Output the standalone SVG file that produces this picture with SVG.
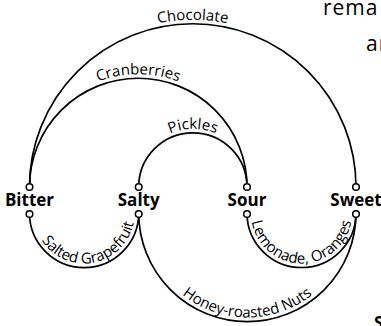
<svg xmlns="http://www.w3.org/2000/svg" xmlns:xlink="http://www.w3.org/1999/xlink" width="381" height="326" viewBox="0 0 381 326">
  <style>
    .edge { fill: none; stroke: #000; stroke-width: 1.7; }
    .port { fill: #fff; stroke: #000; stroke-width: 1.5; }
    .node { font-family: "Open Sans", "Noto Sans", sans-serif; font-weight: bold; font-size: 17px; text-anchor: middle; fill: #000; }
    .lbl { font-family: "Open Sans", "Noto Sans", sans-serif; font-size: 15px; fill: #000; }
    .frag { font-family: "Open Sans", "Noto Sans", sans-serif; font-size: 21px; fill: #000; letter-spacing: 1px; }
  </style>
  <defs>
    <path id="p-choc" d="M 25.5,187 A 167.25 167.25 0 0 1 360,187"/>
    <path id="p-cran" d="M 25.5,187 A 112.75 112.75 0 0 1 251,187"/>
    <path id="p-pick" d="M 134.7,187 A 58.15 58.15 0 0 1 251,187"/>
    <path id="p-salt" d="M 33.6,213 A 50.5 50.5 0 0 0 134.6,213"/>
    <path id="p-lemo" d="M 251,213 A 50.5 50.5 0 0 0 352,213"/>
    <path id="p-hone" d="M 142.85,213 A 104.5 104.5 0 0 0 351.85,213"/>
  </defs>

  <g id="connectors">
    <path class="edge" d="M 29.5,187 A 163.25 163.25 0 0 1 356,187"/>
    <path class="edge" d="M 29.5,187 A 108.75 108.75 0 0 1 247,187"/>
    <path class="edge" d="M 138.7,187 A 54.15 54.15 0 0 1 247,187"/>
    <path class="edge" d="M 29.5,213 A 54.6 54.6 0 0 0 138.7,213"/>
    <path class="edge" d="M 247,213 A 54.5 54.5 0 0 0 356,213"/>
    <path class="edge" d="M 138.7,213 A 108.65 108.65 0 0 0 356,213"/>
    <text class="lbl"><textPath xlink:href="#p-choc" href="#p-choc" startOffset="50%" text-anchor="middle">Chocolate</textPath></text>
    <text class="lbl"><textPath xlink:href="#p-cran" href="#p-cran" startOffset="50%" text-anchor="middle">Cranberries</textPath></text>
    <text class="lbl"><textPath xlink:href="#p-pick" href="#p-pick" startOffset="50%" text-anchor="middle">Pickles</textPath></text>
    <text class="lbl"><textPath xlink:href="#p-salt" href="#p-salt" startOffset="56%" text-anchor="middle">Salted Grapefruit</textPath></text>
    <text class="lbl"><textPath xlink:href="#p-lemo" href="#p-lemo" startOffset="50%" text-anchor="middle">Lemonade, Oranges</textPath></text>
    <text class="lbl"><textPath xlink:href="#p-hone" href="#p-hone" startOffset="50%" text-anchor="middle">Honey-roasted Nuts</textPath></text>
  </g>

  <g id="node-bitter">
    <circle class="port" cx="29.5" cy="187" r="3.3"/>
    <circle class="port" cx="29.5" cy="214" r="3.3"/>
    <text class="node" x="29.5" y="206">Bitter</text>
  </g>
  <g id="node-salty">
    <circle class="port" cx="138.7" cy="187" r="3.3"/>
    <circle class="port" cx="138.7" cy="214" r="3.3"/>
    <text class="node" x="138.7" y="206">Salty</text>
  </g>
  <g id="node-sour">
    <circle class="port" cx="247" cy="187" r="3.3"/>
    <circle class="port" cx="247" cy="214" r="3.3"/>
    <text class="node" x="247" y="206">Sour</text>
  </g>
  <g id="node-sweet">
    <circle class="port" cx="356" cy="187" r="3.3"/>
    <circle class="port" cx="356" cy="214" r="3.3"/>
    <text class="node" x="356" y="206">Sweet</text>
  </g>

  <g id="cut-off-text">
    <text class="frag" x="323" y="15">rema</text>
    <text class="frag" x="366" y="51">an</text>
    <text class="node" x="374" y="329" style="text-anchor:start">S</text>
  </g>
</svg>
